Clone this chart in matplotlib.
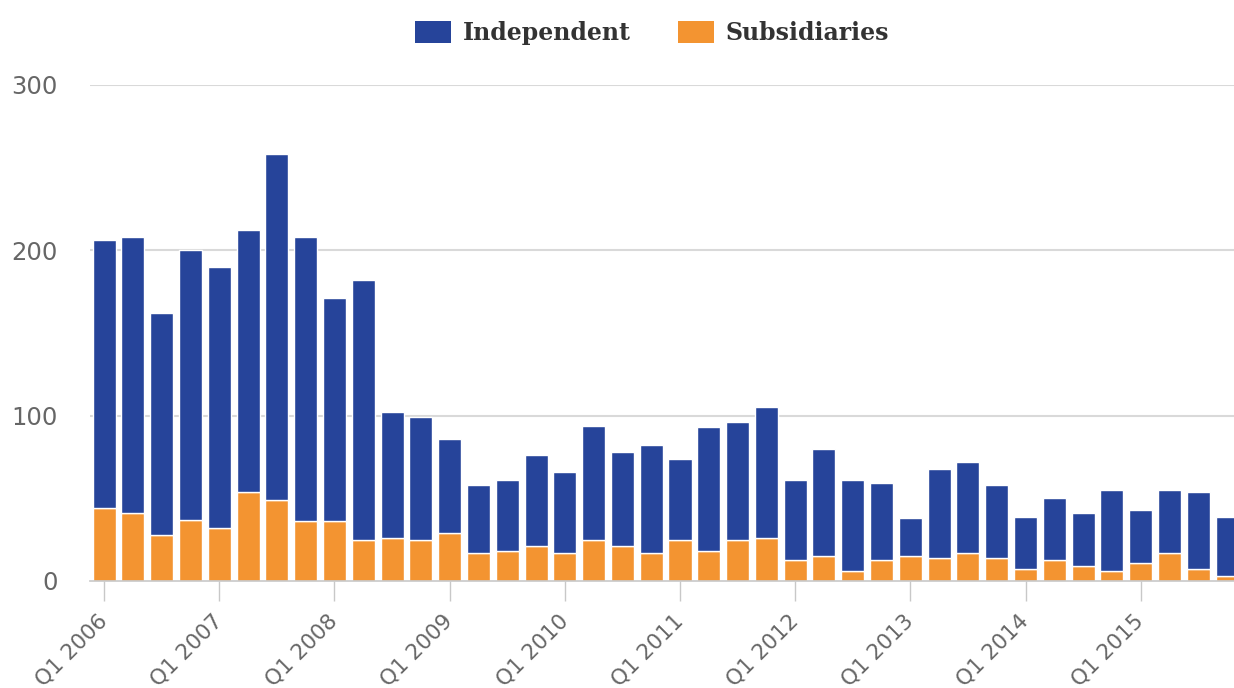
import matplotlib
matplotlib.use("Agg")
import matplotlib.pyplot as plt
from matplotlib.patches import Patch
import numpy as np

years = list(range(2006, 2016))
quarters = [f"Q{q} {y}" for y in years for q in range(1, 5)]
subsidiaries = [44, 41, 28, 37, 32, 54, 49, 36, 36, 25,
                26, 25, 29, 17, 18, 21, 17, 25, 21, 17,
                25, 18, 25, 26, 13, 15, 6, 13, 15, 14,
                17, 14, 7, 13, 9, 6, 11, 17, 7, 3]
independent = [162, 167, 134, 163, 158, 158, 209, 172, 135, 157,
               76, 74, 57, 41, 43, 55, 49, 69, 57, 65,
               49, 75, 71, 79, 48, 65, 55, 46, 23, 54,
               55, 44, 32, 37, 32, 49, 32, 38, 47, 36]
yticks = [0, 100, 200, 300]
tick_labels = [q for q in quarters if q.startswith("Q1")]

BLUE = "#26449A"
ORANGE = "#F39431"
GRID = "#d9d9d9"
TXT = "#666666"

fig = plt.figure(figsize=(12.34, 6.88), dpi=100)
ax = fig.add_axes([90 / 1234, 107 / 688, 1 - 90 / 1234, (581 - 85) / 688])

x = np.arange(len(quarters))
ax.bar(x, subsidiaries, width=0.8, color=ORANGE, edgecolor="white", linewidth=1, zorder=3)
ax.bar(x, independent, bottom=subsidiaries, width=0.8, color=BLUE, edgecolor="white", linewidth=1, zorder=3)

ax.set_xlim(-0.49, 39.24)
ax.set_ylim(0, 300)
ax.set_yticks(yticks)
ax.set_yticklabels([str(v) for v in yticks])
for v in yticks[1:]:
    ax.axhline(v, color=GRID, lw=1.5, zorder=1)

for s in ["top", "right", "left"]:
    ax.spines[s].set_visible(False)
ax.spines["bottom"].set_color("#c8c8c8")
ax.spines["bottom"].set_linewidth(1.2)
ax.spines["bottom"].set_zorder(4)

ax.tick_params(axis="y", length=0, pad=23, labelsize=17.5, labelcolor=TXT)
q1_pos = [i for i, q in enumerate(quarters) if q.startswith("Q1")]
ax.set_xticks(q1_pos)
ax.set_xticklabels(tick_labels, rotation=45, ha="right", va="center", rotation_mode="anchor")
ax.tick_params(axis="x", length=14.4, width=1, color="#c8c8c8", pad=12, labelsize=15.5, labelcolor=TXT)

handles = [Patch(facecolor=BLUE, edgecolor="none", label="Independent"),
           Patch(facecolor=ORANGE, edgecolor="none", label="Subsidiaries")]
fig.legend(handles=handles, loc="center", bbox_to_anchor=(652 / 1234, 1 - 33 / 688), ncol=2,
           frameon=False, prop={"family": "DejaVu Serif", "weight": "bold", "size": 17},
           labelcolor="#333333", handlelength=1.53, handleheight=1.1, handletextpad=0.5,
           columnspacing=2.0)

fig.savefig("out.png", dpi=100)
